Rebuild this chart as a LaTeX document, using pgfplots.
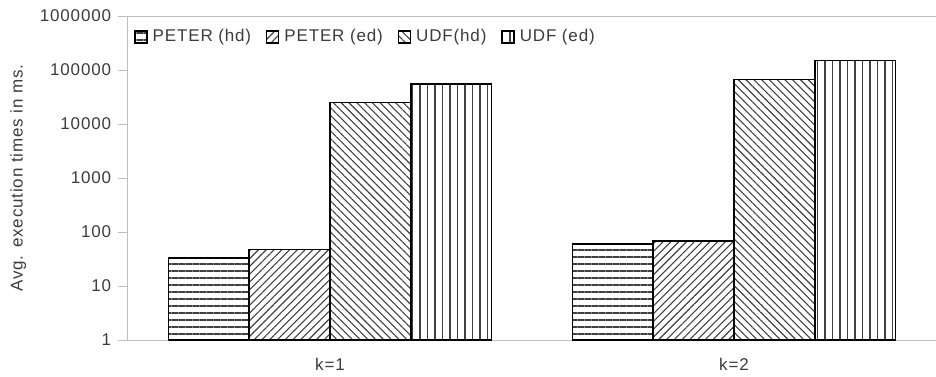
\documentclass[border=0pt]{standalone}
\usepackage{pgfplots}
\pgfplotsset{compat=1.18}
\usepackage{fontspec}
\setmainfont{Liberation Sans}[LetterSpace=5]
\usetikzlibrary{patterns.meta}
\definecolor{txt}{RGB}{60,60,60}
\definecolor{axl}{RGB}{190,190,190}
\begin{document}
\fontsize{17}{20}\selectfont
\begin{tikzpicture}
\useasboundingbox (-128pt,-36pt) rectangle (808pt,340pt);
\begin{axis}[
  scale only axis,
  width=808pt, height=324pt,
  at={(0pt,0pt)}, anchor=south west,
  ymode=log, log basis y=10,
  ymin=1, ymax=1000000,
  xmin=-0.5, xmax=1.5,
  ybar=0pt, bar width=0.2,
  axis x line=box, axis y line=left,
  y axis line style={-},
  axis line style={draw=axl, line width=1pt},
  xtick={0,1}, xticklabels={k=1,k=2},
  xtick pos=bottom,
  extra x ticks={-0.5,0.5,1.5}, extra x tick labels={},
  extra x tick style={major tick length=8pt, tick style={draw=axl, line width=1pt}},
  major x tick style={draw=none},
  ytick={1,10,100,1000,10000,100000,1000000},
  yticklabels={1,10,100,1000,10000,100000,1000000},
  minor ytick={},
  tick align=outside,
  major tick length=10pt,
  y tick style={draw=axl, line width=1pt},
  /pgf/number format/assume math mode=true,
  tick label style={font=\fontsize{17}{20}\selectfont, text=txt},
  yticklabel style={xshift=-1pt},
  xticklabel style={yshift=-2pt},
  ylabel={Avg. execution times in ms.},
  ylabel style={at={(axis description cs:-0.136,0.5)}, anchor=center, font=\fontsize{17}{20}\selectfont, text=txt},
  legend columns=4,
  legend style={draw=none, fill=none, at={(axis description cs:0.004,0.935)}, anchor=west,
    font=\fontsize{17}{20}\selectfont, text=txt,
    /tikz/every odd column/.append style={column sep=3pt},
    /tikz/every even column/.append style={column sep=13pt}},
  legend image code/.code={\draw[#1, line width=1.3pt] (0pt,-6pt) rectangle (12pt,6pt);},
  every axis plot/.append style={draw=black, line width=1.5pt},
]
\addplot[pattern={Lines[angle=0, distance=7pt, line width=1.1pt]}, pattern color=black!75] coordinates {(0,33) (1,60)};
\addlegendentry{PETER (hd)}
\addplot[pattern={Lines[angle=45, distance=5.5pt, line width=1.1pt]}, pattern color=black!75] coordinates {(0,47) (1,68)};
\addlegendentry{PETER (ed)}
\addplot[pattern={Lines[angle=-45, distance=5.5pt, line width=1.1pt]}, pattern color=black!75] coordinates {(0,24800) (1,67000)};
\addlegendentry{UDF(hd)}
\addplot[pattern={Lines[angle=90, distance=7.5pt, line width=1.1pt]}, pattern color=black!75] coordinates {(0,55000) (1,149000)};
\addlegendentry{UDF (ed)}
\end{axis}
\end{tikzpicture}
\end{document}
